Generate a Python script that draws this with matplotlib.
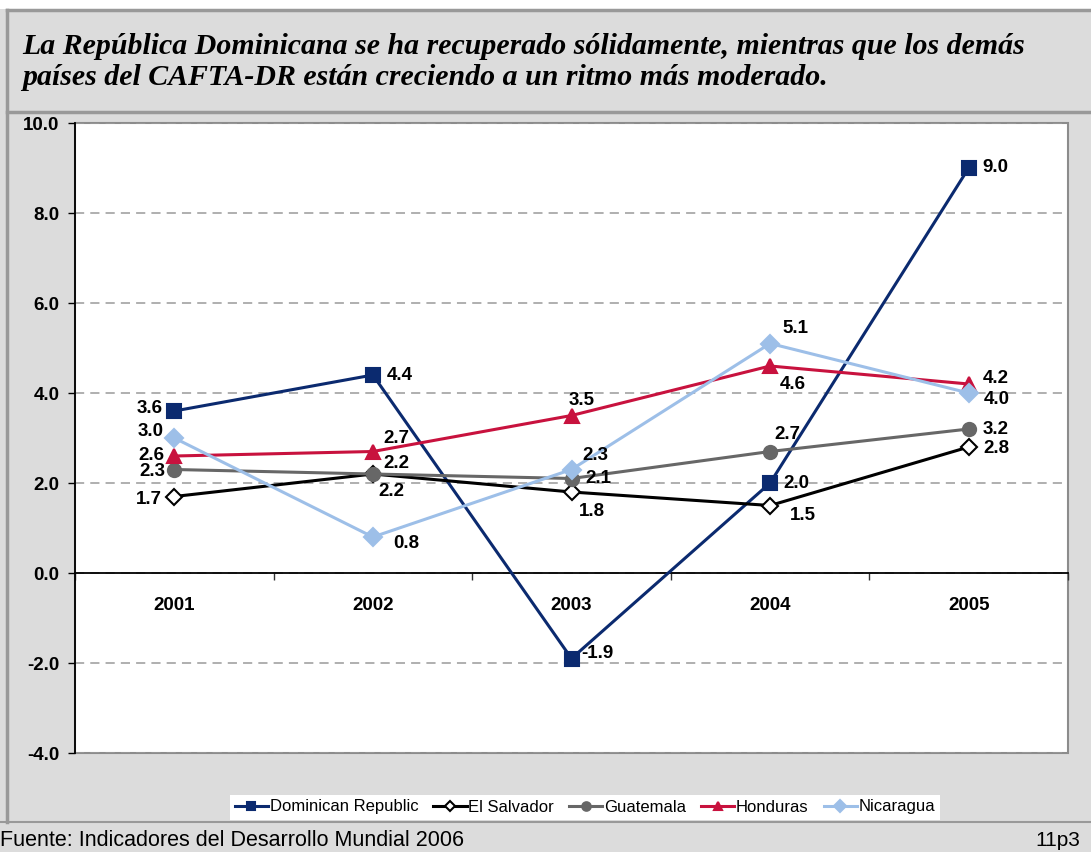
import matplotlib
matplotlib.use('Agg')
import matplotlib.pyplot as plt
from matplotlib.patches import Rectangle
from matplotlib.ticker import FixedLocator, FuncFormatter

years = ['2001', '2002', '2003', '2004', '2005']
countries = ['Dominican Republic', 'El Salvador', 'Guatemala', 'Honduras', 'Nicaragua']

dominican_republic = [3.6, 4.4, -1.9, 2.0, 9.0]
el_salvador = [1.7, 2.2, 1.8, 1.5, 2.8]
guatemala = [2.3, 2.2, 2.1, 2.7, 3.2]
honduras = [2.6, 2.7, 3.5, 4.6, 4.2]
nicaragua = [3.0, 0.8, 2.3, 5.1, 4.0]

series = [dominican_republic, el_salvador, guatemala, honduras, nicaragua]

# styling per series
colors = ['#0b2a6f', '#000000', '#676767', '#c8123e', '#9dbfe8']
markers = ['s', 'D', 'o', '^', 'D']
msizes = [9.5, 8, 9.5, 9.5, 9.0]
mfaces = ['#0b2a6f', 'white', '#676767', '#c8123e', '#9dbfe8']

# label offsets in pixels (dx, dy, ha)
offsets = [
    [(-12, 3, 'right'), (14, 0, 'left'), (10, 5, 'left'), (13, 0, 'left'), (14, 1, 'left')],
    [(-12, -3, 'right'), (5, -17, 'left'), (7, -19, 'left'), (20, -10, 'left'), (15, -1, 'left')],
    [(-9, -2, 'right'), (10, 11, 'left'), (14, 0, 'left'), (4, 17, 'left'), (14, 0, 'left')],
    [(-10, 1, 'right'), (10, 13, 'left'), (10, 15, 'center'), (10, -18, 'left'), (14, 6, 'left')],
    [(-11, 7, 'right'), (20, -7, 'left'), (11, 14, 'left'), (12, 15, 'left'), (15, -6, 'left')],
]

title = ('La República Dominicana se ha recuperado sólidamente, mientras que los demás\n'
         'países del CAFTA-DR están creciendo a un ritmo más moderado.')
source = 'Fuente: Indicadores del Desarrollo Mundial 2006'

W, H = 1091, 852
bg = '#dcdcdc'
edge = '#999999'

fig = plt.figure(figsize=(W / 100, H / 100), dpi=100, facecolor=bg)

# white strip at top and frame lines
fig.patches.append(Rectangle((0, 1 - 9 / H), 1, 9 / H, transform=fig.transFigure,
                             facecolor='white', edgecolor='none', zorder=0))
fig.add_artist(plt.Line2D([7 / W, 1], [1 - 9.5 / H] * 2, color=edge, lw=2.5))
fig.add_artist(plt.Line2D([7 / W, 1], [1 - 111.5 / H] * 2, color=edge, lw=2.5))
fig.add_artist(plt.Line2D([7 / W, 7 / W], [1 - 9.5 / H, 1 - 821.5 / H], color=edge, lw=2.5))
fig.add_artist(plt.Line2D([0, 1], [1 - 821.5 / H] * 2, color=edge, lw=1.5))

fig.text(22 / W, 1 - 62 / H, title, fontsize=21.5, fontweight='bold', fontstyle='italic',
         family=['Liberation Serif'], va='center', ha='left', linespacing=1.15)

fig.text(0, 1 - 840 / H, source, fontsize=15.5, family=['Liberation Sans'],
         va='center', ha='left')
fig.text(1080 / W, 1 - 840 / H, '11p3', fontsize=15, family=['Liberation Sans'],
         va='center', ha='right')

ax = fig.add_axes([75 / W, 1 - 753 / H, 993 / W, 630 / H])
ax.set_facecolor('white')
ax.patch.set_edgecolor('#8c8c8c')
ax.patch.set_linewidth(1.5)

x = list(range(len(years)))
for i, vals in enumerate(series):
    ax.plot(x, vals, color=colors[i], lw=2.2, marker=markers[i], markersize=msizes[i],
            markerfacecolor=mfaces[i], markeredgecolor=colors[i], markeredgewidth=1.5,
            label=countries[i], zorder=3 + i, clip_on=False)
    for j, v in enumerate(vals):
        dx, dy, ha = offsets[i][j]
        ax.annotate(f'{v:.1f}', (x[j], v), xytext=(dx, dy), textcoords='offset pixels',
                    ha=ha, va='center', fontsize=13.5, fontweight='bold',
                    family=['Liberation Sans'], zorder=10)

ax.set_xlim(-0.5, len(years) - 0.5)
ax.set_ylim(-4, 10)

ax.spines['top'].set_visible(False)
ax.spines['right'].set_visible(False)
ax.spines['left'].set_color('black')
ax.spines['left'].set_linewidth(1.3)
ax.spines['bottom'].set_position(('data', 0))
ax.spines['bottom'].set_color('black')
ax.spines['bottom'].set_linewidth(1.3)
ax.spines['left'].set_zorder(2)

ax.set_xticks(x)
ax.set_xticklabels(years, fontsize=13.5, fontweight='bold', family=['Liberation Sans'])
ax.xaxis.set_minor_locator(FixedLocator([k - 0.5 for k in range(len(years) + 1)]))
ax.tick_params(axis='x', which='major', length=0, pad=17)
ax.tick_params(axis='x', which='minor', length=5, width=1, direction='out', color='#333333')

ax.set_yticks(range(-4, 11, 2))
ax.yaxis.set_major_formatter(FuncFormatter(lambda v, p: f'{v:.1f}'))
ax.tick_params(axis='y', length=5, width=1, pad=6, labelsize=13.5)
for lab in ax.get_yticklabels():
    lab.set_fontweight('bold')
    lab.set_family(['Liberation Sans'])

ax.yaxis.grid(True, color='#9a9a9a', linestyle=(0, (6, 4)), lw=1.1)
ax.set_axisbelow(True)

leg = fig.legend(loc='center', bbox_to_anchor=(585 / W, 1 - 807 / H), ncol=5,
                 frameon=True, fancybox=False, framealpha=1, edgecolor='white',
                 prop={'family': ['Liberation Sans'], 'size': 12},
                 handlelength=2.0, handletextpad=0.1, columnspacing=0.9,
                 markerscale=0.65, borderpad=0.3)
leg.get_frame().set_linewidth(0)

fig.savefig('out.png', dpi=100, facecolor=bg)
